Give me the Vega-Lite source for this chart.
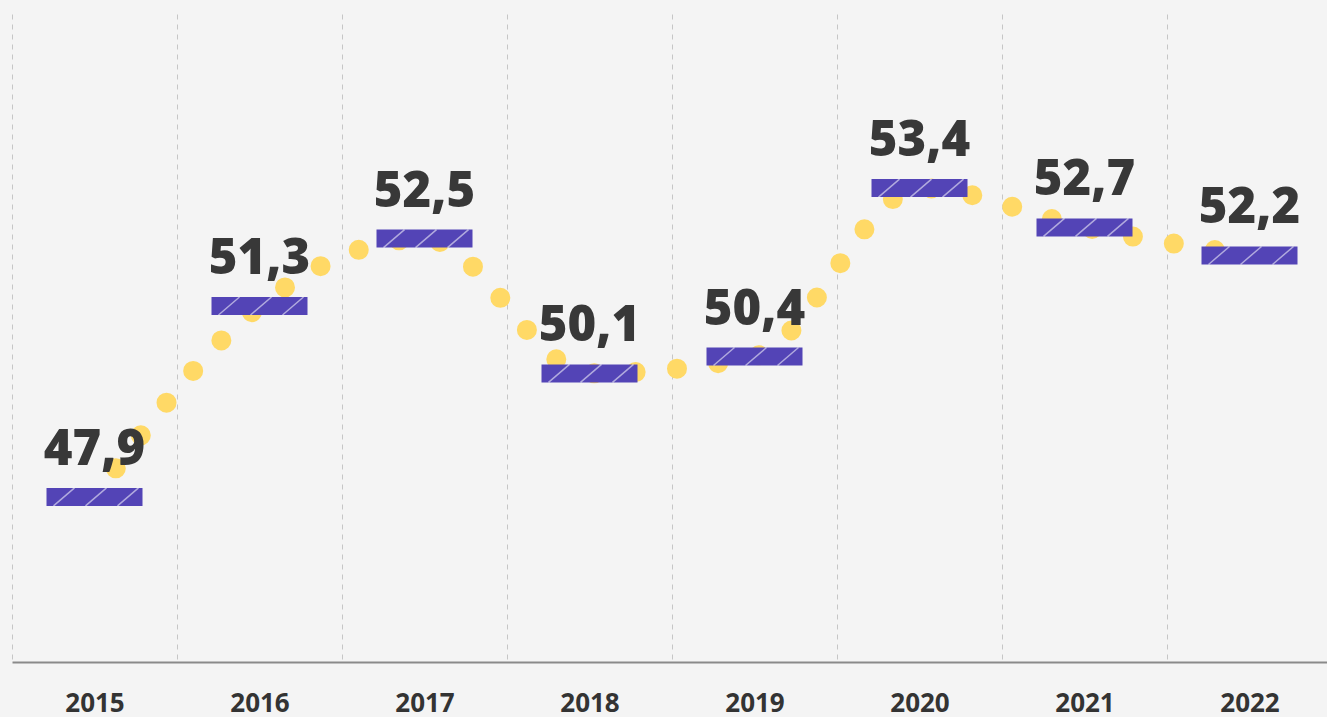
{
  "$schema": "https://vega.github.io/schema/vega-lite/v6.json",
  "width": 1315,
  "height": 648,
  "autosize": {"type": "none"},
  "padding": {"left": 12, "top": 14, "right": 0, "bottom": 55},
  "background": "#f4f4f4",
  "config": {"view": {"stroke": null}},
  "data": {
    "values": [
      {"year": "2015", "value": 47.9, "label": "47,9"},
      {"year": "2016", "value": 51.3, "label": "51,3"},
      {"year": "2017", "value": 52.5, "label": "52,5"},
      {"year": "2018", "value": 50.1, "label": "50,1"},
      {"year": "2019", "value": 50.4, "label": "50,4"},
      {"year": "2020", "value": 53.4, "label": "53,4"},
      {"year": "2021", "value": 52.7, "label": "52,7"},
      {"year": "2022", "value": 52.2, "label": "52,2"}
    ]
  },
  "encoding": {
    "x": {
      "field": "year",
      "type": "ordinal",
      "scale": {"range": [0, 1320], "paddingInner": 0, "paddingOuter": 0},
      "axis": {
        "title": null,
        "ticks": false,
        "tickBand": "extent",
        "grid": true,
        "gridColor": "#c6c6c6",
        "gridDash": [5, 5],
        "gridWidth": 1,
        "domain": true,
        "domainColor": "#8a8a8a",
        "domainWidth": 2,
        "labelAngle": 0,
        "labelFont": "Open Sans",
        "labelFontSize": 26,
        "labelFontWeight": "bold",
        "labelColor": "#333333",
        "labelBaseline": "alphabetic",
        "labelPadding": 49
      }
    },
    "y": {
      "field": "value",
      "type": "quantitative",
      "scale": {"domain": [44.96, 56.5], "nice": false, "zero": false},
      "axis": null
    }
  },
  "layer": [
    {
      "mark": {
        "type": "line",
        "interpolate": "monotone",
        "color": "#FFD966",
        "strokeWidth": 20,
        "strokeCap": "round",
        "strokeDash": [0, 41.5],
        "strokeDashOffset": 6
      }
    },
    {
      "mark": {
        "type": "tick",
        "orient": "horizontal",
        "thickness": 18,
        "size": 96,
        "color": "#5344B6",
        "opacity": 1
      }
    },
    {
      "mark": {"type": "rule", "color": "#ffffff", "opacity": 0.55, "strokeWidth": 1.5, "xOffset": -41, "x2Offset": -20, "yOffset": 9, "y2Offset": -9},
      "encoding": {"x2": {"field": "year"}, "y2": {"field": "value"}}
    },
    {
      "mark": {"type": "rule", "color": "#ffffff", "opacity": 0.55, "strokeWidth": 1.5, "xOffset": -9, "x2Offset": 12, "yOffset": 9, "y2Offset": -9},
      "encoding": {"x2": {"field": "year"}, "y2": {"field": "value"}}
    },
    {
      "mark": {"type": "rule", "color": "#ffffff", "opacity": 0.55, "strokeWidth": 1.5, "xOffset": 23, "x2Offset": 44, "yOffset": 9, "y2Offset": -9},
      "encoding": {"x2": {"field": "year"}, "y2": {"field": "value"}}
    },
    {
      "mark": {
        "type": "text",
        "font": "Open Sans",
        "fontSize": 49,
        "fontWeight": 800,
        "color": "#383838",
        "baseline": "alphabetic",
        "align": "center",
        "dy": -32
      },
      "encoding": {"text": {"field": "label"}}
    }
  ]
}
